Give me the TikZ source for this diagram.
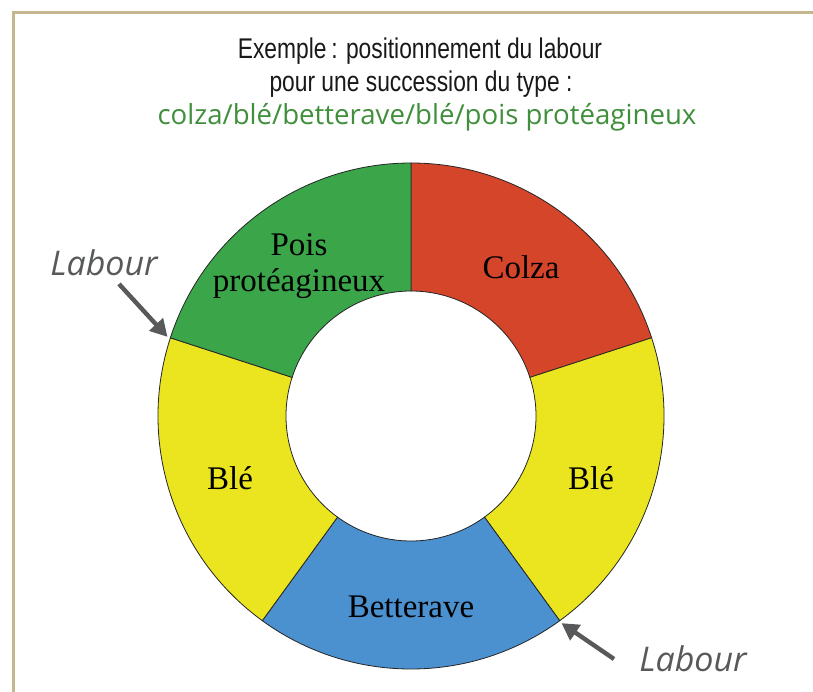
\documentclass[tikz,border=0pt]{standalone}
\usepackage{fontspec}
\setmainfont{Liberation Serif}
\newfontfamily\titlefont[FakeStretch=0.8]{Liberation Sans}
\newfontfamily\frutfont{Open Sans}
\usetikzlibrary{arrows.meta}
\definecolor{frame}{HTML}{C4B68F}
\definecolor{titlegreen}{HTML}{3F8F3B}
\definecolor{labgrey}{HTML}{58595B}
\definecolor{cgreen}{HTML}{3BA54A}
\definecolor{cred}{HTML}{D5452A}
\definecolor{cyellow}{HTML}{EAE51F}
\definecolor{cblue}{HTML}{4B91D0}
\tikzset{
  seg/.style={draw=black!85, line width=0.8pt},
  seglabel/.style={font=\fontsize{33}{36}\selectfont, text=black, align=center, inner sep=0pt},
  titleline/.style={font=\titlefont\fontsize{28.5}{32}\selectfont, text=black!90, inner sep=0pt},
  labourtxt/.style={font=\frutfont\itshape\fontsize{34}{38}\selectfont, text=labgrey, inner sep=0pt},
  labarrow/.style={draw=labgrey, line width=4.4pt, -{Triangle[length=17pt,width=18pt]}}
}
\newcommand{\ringseg}[3]{% start angle, end angle, colour
  \filldraw[seg, fill=#3] (#1:125) -- (#1:253) arc[start angle=#1, end angle=#2, radius=253] -- (#2:125) arc[start angle=#2, end angle=#1, radius=125] -- cycle;}
\begin{document}
\begin{tikzpicture}[x=1pt,y=1pt]
\useasboundingbox (0,0) rectangle (813,-692);
\fill[white] (0,0) rectangle (813,-692);
% frame
\draw[frame, line width=3pt] (13,-692) -- (13,-13) -- (813,-13);
% title
\node[titleline] (t1) at (420,-51) {Exemple\,: positionnement du labour};
\node[titleline] (t2) at (421,-84) {pour une succession du type :};
\node[font=\frutfont\fontsize{27.6}{31}\selectfont, text=titlegreen, inner sep=0pt] (t3) at (427,-117) {colza/blé/betterave/blé/pois protéagineux};
% ring
\begin{scope}[shift={(411,-416)}]
  \ringseg{18}{90}{cred}
  \ringseg{-54}{18}{cyellow}
  \ringseg{-126}{-54}{cblue}
  \ringseg{162}{234}{cyellow}
  \ringseg{90}{162}{cgreen}
  \coordinate (tipL) at (162:256);
  \coordinate (tipR) at (-54:256);
\end{scope}
% segment labels
\node[seglabel] (colza) at (521,-267) {Colza};
\node[seglabel] (bleR) at (591,-478) {Blé};
\node[seglabel] (bett) at (411,-607) {Betterave};
\node[seglabel] (bleL) at (230,-478) {Blé};
\node[seglabel] (pois) at (299,-266) {Pois\\protéagineux};
% Labour annotations
\node[labourtxt] (labL) at (104,-263) {Labour};
\node[labourtxt] (labR) at (693,-659) {Labour};
\coordinate (startL) at (119,-284);
\coordinate (startR) at (614,-659);
\draw[labarrow] (startL) -- (tipL);
\draw[labarrow] (startR) -- (tipR);
\end{tikzpicture}
\end{document}
